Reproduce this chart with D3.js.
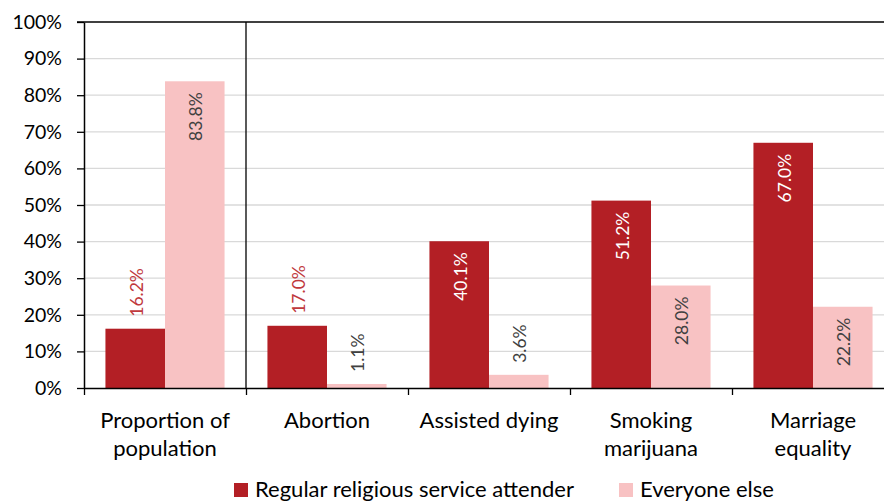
<!DOCTYPE html>
<html>
<head>
<meta charset="utf-8">
<script src="https://cdn.jsdelivr.net/npm/d3@7"></script>
<style>
  body { margin: 0; background: #fff; }
  svg { display: block; font-family: Lato, "Open Sans", sans-serif; }
</style>
</head>
<body>
<svg width="884" height="502"></svg>
<script>
const categories = [["Proportion of", "population"], ["Abortion"], ["Assisted dying"], ["Smoking", "marijuana"], ["Marriage", "equality"]];
const seriesNames = ["Regular religious service attender", "Everyone else"];
const attender = [16.2, 17.0, 40.1, 51.2, 67.0];
const everyone = [83.8, 1.1, 3.6, 28.0, 22.2];
const yTicks = [0, 10, 20, 30, 40, 50, 60, 70, 80, 90, 100];

const colors = ["#b31f25", "#f8c2c3"];
const svg = d3.select("svg");
const plotLeft = 84, plotTop = 22, plotBottom = 388, plotRight = 894;

const x = d3.scaleBand().domain(d3.range(categories.length)).range([plotLeft, plotRight]).padding(0);
const xs = d3.scaleBand().domain([0, 1]).range([0, x.bandwidth()]).paddingInner(0).paddingOuter(0.36);
const y = d3.scaleLinear().domain([0, 100]).range([plotBottom, plotTop]);

// gridlines
svg.append("g").selectAll("line").data(yTicks.slice(1, -1)).enter().append("line")
  .attr("x1", plotLeft).attr("x2", 884).attr("y1", d => y(d)).attr("y2", d => y(d))
  .attr("stroke", "#d9d9d9").attr("stroke-width", 1.3);

// bars
const rows = categories.map((c, i) => [attender[i], everyone[i]]);
const grp = svg.append("g").selectAll("g").data(rows).enter().append("g")
  .attr("transform", (d, i) => "translate(" + x(i) + ",0)");
grp.selectAll("rect").data(d => d).enter().append("rect")
  .attr("x", (d, j) => xs(j)).attr("width", xs.bandwidth())
  .attr("y", d => y(d)).attr("height", d => plotBottom - y(d))
  .attr("fill", (d, j) => colors[j]);

// value labels
grp.selectAll("text").data(d => d).enter().append("text")
  .attr("transform", (d, j) => {
    const inside = d >= 20;
    const yy = inside ? y(d) + 11 : y(d) - 12;
    return "translate(" + (xs(j) + xs.bandwidth() / 2 + 1) + "," + yy + ") rotate(-90)";
  })
  .attr("text-anchor", d => d >= 20 ? "end" : "start")
  .attr("dominant-baseline", "central")
  .attr("font-size", "17.5px")
  .attr("fill", (d, j) => j === 0 ? (d >= 20 ? "#ffffff" : "#c0393d") : "#404040")
  .text(d => d.toFixed(1) + "%");

// y axis
const yAxis = svg.append("g").attr("transform", "translate(" + plotLeft + ",0)")
  .call(d3.axisLeft(y).tickValues(yTicks).tickFormat(d => d + "%").tickSize(7).tickSizeOuter(0));
yAxis.select(".domain").attr("stroke", "#000").attr("stroke-width", 1.5);
yAxis.selectAll(".tick line").attr("stroke", "#000").attr("stroke-width", 1.3);
yAxis.selectAll(".tick text").attr("font-size", "19.5px").attr("fill", "#000").attr("x", -22)
  .attr("font-family", "Lato, sans-serif");

// top border
svg.append("line").attr("x1", plotLeft - 7).attr("x2", 884).attr("y1", plotTop).attr("y2", plotTop)
  .attr("stroke", "#000").attr("stroke-width", 1.5);

// x axis
const xb = d3.scaleLinear().domain([0, categories.length]).range([plotLeft, plotRight]);
const xAxis = svg.append("g").attr("transform", "translate(0," + plotBottom + ")")
  .call(d3.axisBottom(xb).tickValues(d3.range(categories.length + 1)).tickFormat("").tickSize(7).tickSizeOuter(0));
xAxis.select(".domain").attr("stroke", "#000").attr("stroke-width", 1.5);
xAxis.selectAll(".tick line").attr("stroke", "#000").attr("stroke-width", 1.3);

// separator after first category
svg.append("line").attr("x1", xb(1)).attr("x2", xb(1)).attr("y1", plotTop).attr("y2", plotBottom)
  .attr("stroke", "#000").attr("stroke-width", 1.3);

// category labels
const cl = svg.append("g").selectAll("text").data(categories).enter().append("text")
  .attr("x", (d, i) => x(i) + x.bandwidth() / 2).attr("y", 428)
  .attr("text-anchor", "middle").attr("font-size", "22px").attr("fill", "#000");
cl.selectAll("tspan").data(d => d).enter().append("tspan")
  .attr("x", function () { return d3.select(this.parentNode).attr("x"); })
  .attr("dy", (d, k) => k === 0 ? 0 : 28)
  .text(d => d);

// legend
const leg = [{ x: 234, name: seriesNames[0], c: colors[0] }, { x: 619, name: seriesNames[1], c: colors[1] }];
const lg = svg.append("g").selectAll("g").data(leg).enter().append("g")
  .attr("transform", d => "translate(" + d.x + ",483)");
lg.append("rect").attr("width", 14).attr("height", 14).attr("fill", d => d.c);
lg.append("text").attr("x", 21).attr("y", 14)
  .attr("font-size", "22px").attr("fill", "#000").text(d => d.name);
</script>
</body>
</html>
